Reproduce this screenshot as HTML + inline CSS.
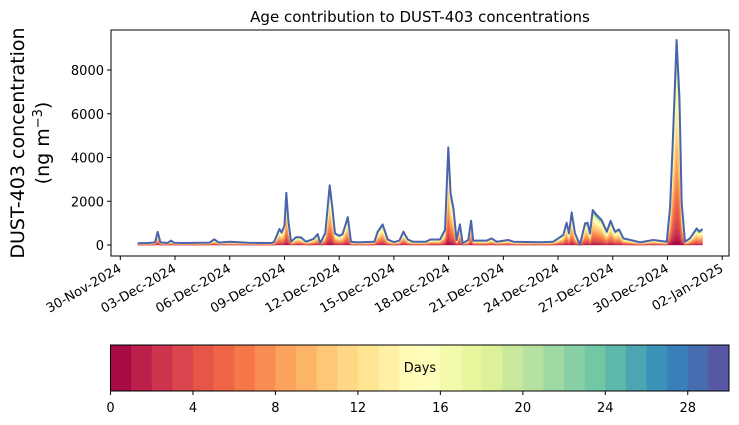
<!DOCTYPE html>
<html><head><meta charset="utf-8"><style>
body{margin:0;background:#fff;}
svg{display:block;font-family:"DejaVu Sans","Liberation Sans",sans-serif;}
</style></head><body>
<svg id="c" width="739" height="425" viewBox="0 0 739 425"></svg>
<script>
const days=[0.95,1.5,1.9,2.05,2.2,2.6,2.78,2.95,3.5,4.9,5.15,5.4,6.0,7.0,8.3,8.44,8.72,8.85,9.0,9.1,9.21,9.36,9.63,9.9,10.18,10.6,10.82,10.96,11.24,11.48,11.64,11.77,12.0,12.19,12.47,12.65,13.0,13.93,14.11,14.38,14.66,15.0,15.3,15.52,15.76,16.03,16.76,17.0,17.53,17.8,17.98,18.11,18.26,18.44,18.62,18.77,19.08,19.23,19.35,20.09,20.36,20.63,21.27,21.55,23.0,23.74,24.29,24.47,24.6,24.75,24.93,25.2,25.48,25.62,25.75,25.9,26.12,26.39,26.67,26.88,27.12,27.34,27.58,28.12,28.49,29.22,29.96,30.14,30.28,30.5,30.65,30.78,30.96,31.23,31.6,31.74,31.92];
const totals=[80,90,120,600,120,90,200,100,90,110,260,110,150,100,90,150,730,570,900,2390,1140,150,350,350,150,280,500,80,550,2730,1600,530,420,500,1270,150,120,150,610,940,250,130,200,610,250,150,150,250,250,685,4460,2360,1680,230,940,80,230,1110,200,200,300,150,230,150,130,150,460,1020,530,1490,530,20,990,1020,530,1600,1370,1140,610,1100,610,715,300,200,120,230,150,1750,4500,9370,6780,1900,150,300,760,610,730];
const ageWeights=[0.025,0.03,0.04,0.05,0.06,0.065,0.07,0.07,0.07,0.07,0.065,0.06,0.055,0.05,0.045,0.04,0.035,0.03,0.025,0.02,0.018,0.016,0.014,0.012,0.011,0.01,0.01,0.009,0.009,0.009];
const yTicks=[0,2000,4000,6000,8000];
const xTickLabels=["30-Nov-2024","03-Dec-2024","06-Dec-2024","09-Dec-2024","12-Dec-2024","15-Dec-2024","18-Dec-2024","21-Dec-2024","24-Dec-2024","27-Dec-2024","30-Dec-2024","02-Jan-2025"];
const cbTicks=[0,4,8,12,16,20,24,28];

const NS="http://www.w3.org/2000/svg",svg=document.getElementById('c');
function el(t,a,p){const e=document.createElementNS(NS,t);for(const k in a)e.setAttribute(k,a[k]);(p||svg).appendChild(e);return e;}
const X0=111,X1=729,Y0=30,Y1=256;
const xs=d=>120.3+d*18.24, ys=v=>245-v*0.021875;
const stops=["#9e0142","#d53e4f","#f46d43","#fdae61","#fee08b","#ffffbf","#e6f598","#abdda4","#66c2a5","#3288bd","#5e4fa2"];
function hex(h){return [1,3,5].map(i=>parseInt(h.substr(i,2),16));}
function spec(t){const p=t*10,i=Math.min(9,Math.floor(p)),f=p-i,a=hex(stops[i]),b=hex(stops[i+1]);return `rgb(${a.map((v,k)=>Math.round(v+(b[k]-v)*f)).join(',')})`;}
const wsum=ageWeights.reduce((a,b)=>a+b,0);

el('text',{x:420,y:22,'text-anchor':'middle','font-size':15,}).textContent="Age contribution to DUST-403 concentrations";
const g=el('g',{});
let cum=totals.map(()=>0);
ageWeights.forEach((w,k)=>{
  const lo=cum.slice();cum=cum.map((c,i)=>c+totals[i]*w/wsum);
  let d="M"+days.map((dd,i)=>xs(dd).toFixed(1)+","+ys(cum[i]).toFixed(1)).join("L");
  for(let i=days.length-1;i>=0;i--)d+="L"+xs(days[i]).toFixed(1)+","+ys(lo[i]).toFixed(1);
  const p=el('path',{d:d+"Z",fill:spec((k+0.5)/30),stroke:spec((k+0.5)/30),'stroke-width':0.3},g);
  
  
});
el('path',{d:"M"+days.map((dd,i)=>xs(dd).toFixed(1)+","+ys(totals[i]).toFixed(1)).join("L"),fill:'none',stroke:'#4a63ad','stroke-width':2,'stroke-linejoin':'round',});
el('rect',{x:X0,y:Y0,width:X1-X0,height:Y1-Y0,fill:'none',stroke:'#000','stroke-width':1,});
yTicks.forEach(v=>{const y=ys(v);el('line',{x1:X0-4,x2:X0,y1:y,y2:y,stroke:'#000'});
 const t=el('text',{x:X0-7,y:y+5,'text-anchor':'end','font-size':13});t.textContent=v;
 });
xTickLabels.forEach((s,i)=>{const xx=120.3+i*3*18.24;
 el('line',{x1:xx,x2:xx,y1:Y1,y2:Y1+4,stroke:'#000'});
 const t=el('text',{x:0,y:0,'text-anchor':'end','font-size':13,transform:`translate(${xx+2},${Y1+15}) rotate(-30)`});t.textContent=s;
 });
const yl=el('text',{transform:'translate(29,143) rotate(-90)','text-anchor':'middle','font-size':19,});
yl.innerHTML='<tspan x="0" dy="-5">DUST-403 concentration</tspan><tspan x="0" dy="25">(ng m</tspan><tspan dy="-7" font-size="13">−3</tspan><tspan dy="7">)</tspan>';
const CB0=110.5,CB1=729,cbx=d=>CB0+d*(CB1-CB0)/30;
const cb=el('g',{});
for(let k=0;k<30;k++){const r=el('rect',{x:cbx(k),y:345,width:cbx(k+1)-cbx(k)+0.5,height:46,fill:spec((k+0.5)/30)},cb);
 }
el('rect',{x:CB0,y:345,width:CB1-CB0,height:46,fill:'none',stroke:'#000','stroke-width':1});
el('text',{x:420,y:372,'text-anchor':'middle','font-size':13,}).textContent="Days";
cbTicks.forEach(v=>{const x=cbx(v);el('line',{x1:x,x2:x,y1:391,y2:395,stroke:'#000'});
 const t=el('text',{x:x,y:412,'text-anchor':'middle','font-size':13});t.textContent=v;
 });
</script>
</body></html>
